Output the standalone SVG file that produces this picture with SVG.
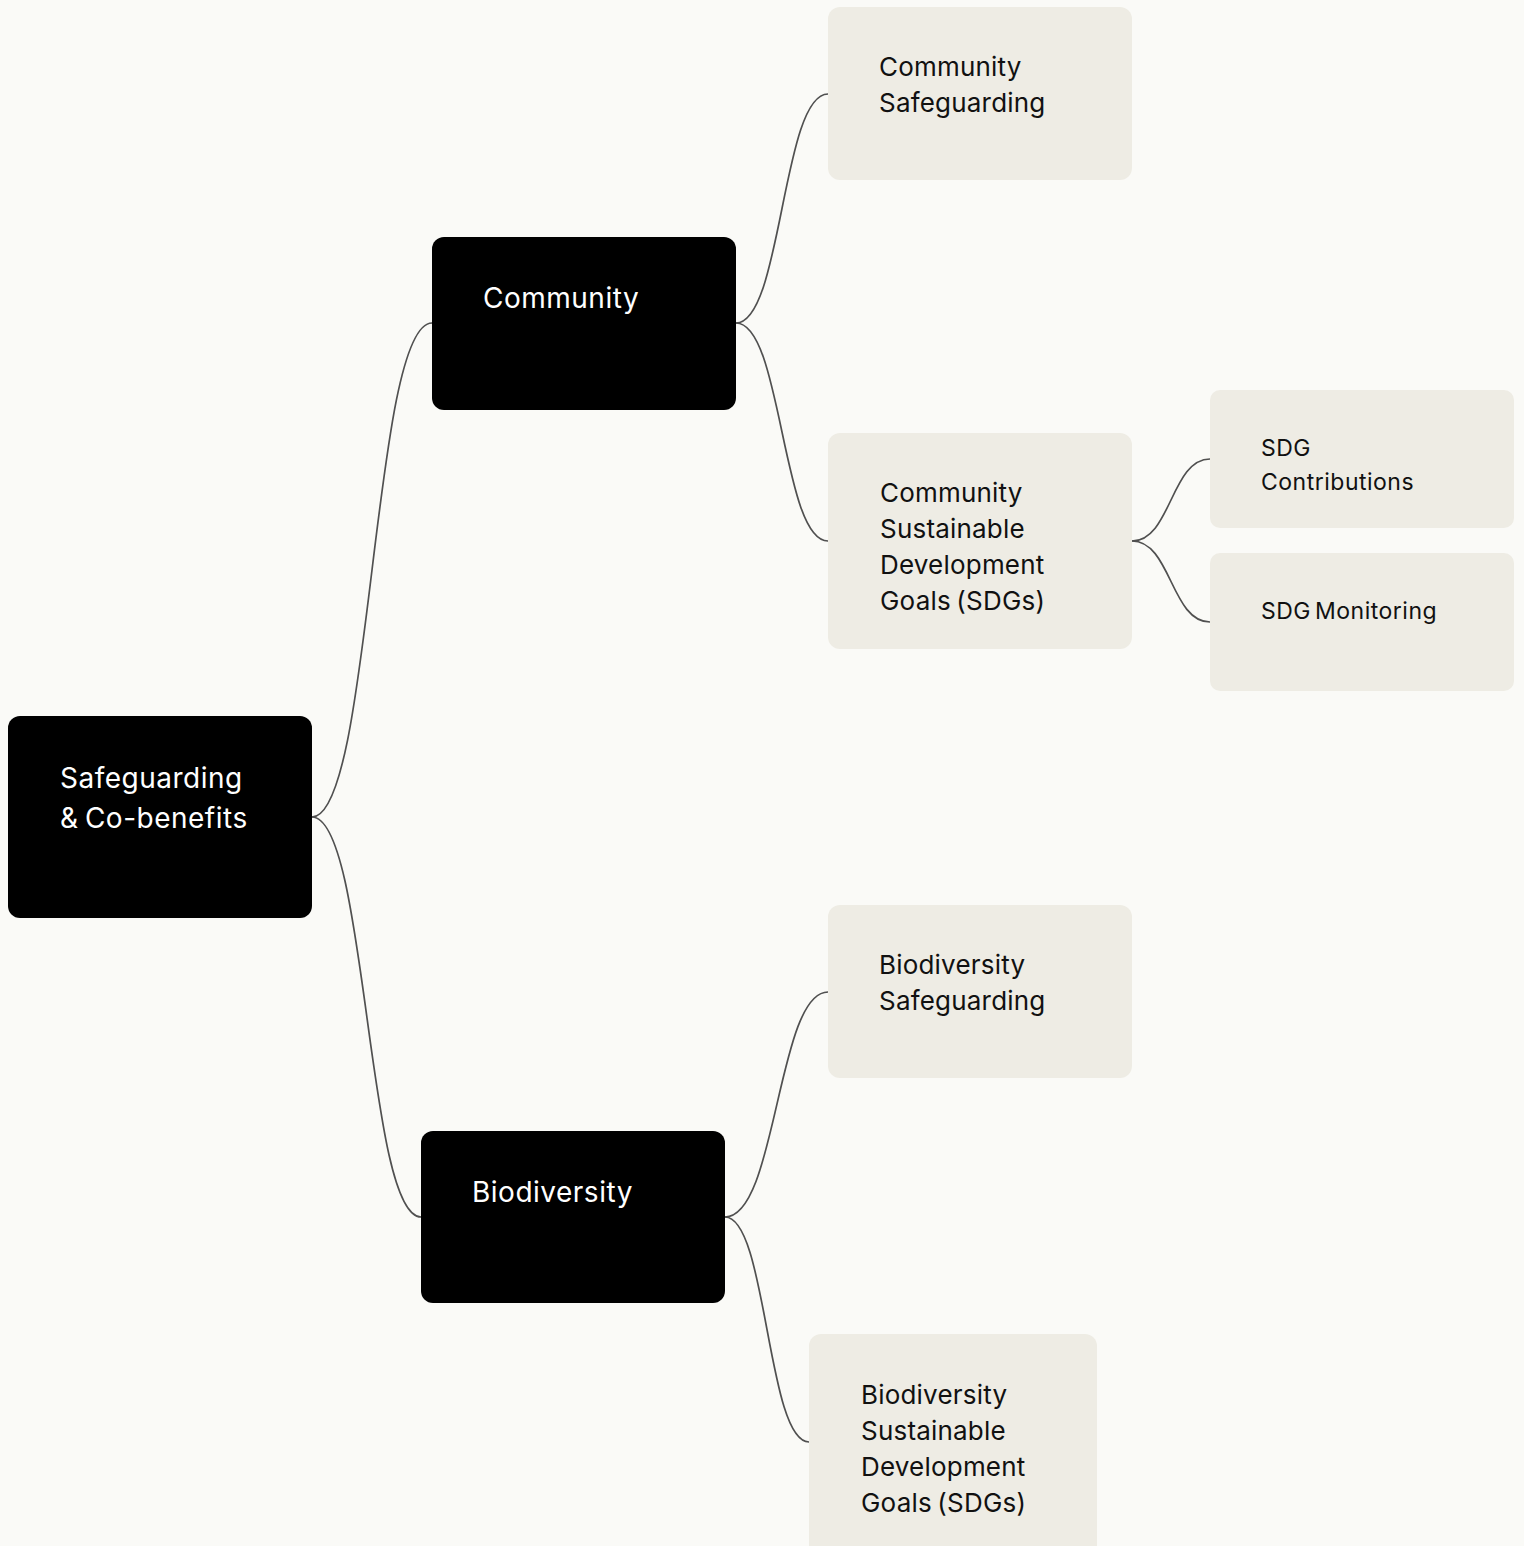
<svg xmlns="http://www.w3.org/2000/svg" width="1524" height="1546" viewBox="0 0 1524 1546">
<style>
.dark{fill:#000000}
.light{fill:#EEECE4}
.tw{fill:#FFFFFF;font-family:Inter,"Noto Sans",sans-serif;font-size:28px;letter-spacing:0.5px;word-spacing:-2px}
.tb{fill:#111111;font-family:Inter,"Noto Sans",sans-serif;font-size:26px;letter-spacing:0.2px;word-spacing:-2px}
.ts{fill:#111111;font-family:Inter,"Noto Sans",sans-serif;font-size:23px;letter-spacing:0.5px;word-spacing:-3px}
.edge{fill:none;stroke:#505050;stroke-width:1.7}
</style>
<rect x="0" y="0" width="1524" height="1546" fill="#FAFAF7"/>
<g id="connectors">
<path class="edge" d="M312,817 C372,817 372,323 432,323"/>
<path class="edge" d="M312,817 C367,817 367,1217 421,1217"/>
<path class="edge" d="M736,323 C782,323 782,94 828,94"/>
<path class="edge" d="M736,323 C782,323 782,541 828,541"/>
<path class="edge" d="M1132,541 C1171,541 1171,459 1210,459"/>
<path class="edge" d="M1132,541 C1171,541 1171,622 1210,622"/>
<path class="edge" d="M725,1217 C777,1217 777,992 828,992"/>
<path class="edge" d="M725,1217 C767,1217 767,1442 809,1442"/>
</g>
<g id="root">
<rect class="dark" x="8" y="716" width="304" height="202" rx="12"/>
<text class="tw" x="60" y="788">Safeguarding</text>
<text class="tw" x="60" y="828">&amp; Co-benefits</text>
</g>
<g id="community">
<rect class="dark" x="432" y="237" width="304" height="173" rx="12"/>
<text class="tw" x="483" y="308">Community</text>
</g>
<g id="biodiversity">
<rect class="dark" x="421" y="1131" width="304" height="172" rx="12"/>
<text class="tw" x="472" y="1202">Biodiversity</text>
</g>
<g id="community-safeguarding">
<rect class="light" x="828" y="7" width="304" height="173" rx="12"/>
<text class="tb" x="879" y="76">Community</text>
<text class="tb" x="879" y="112">Safeguarding</text>
</g>
<g id="community-sdgs">
<rect class="light" x="828" y="433" width="304" height="216" rx="12"/>
<text class="tb" x="880" y="502">Community</text>
<text class="tb" x="880" y="538">Sustainable</text>
<text class="tb" x="880" y="574">Development</text>
<text class="tb" x="880" y="610">Goals (SDGs)</text>
</g>
<g id="sdg-contributions">
<rect class="light" x="1210" y="390" width="304" height="138" rx="10"/>
<text class="ts" x="1261" y="456">SDG</text>
<text class="ts" x="1261" y="490">Contributions</text>
</g>
<g id="sdg-monitoring">
<rect class="light" x="1210" y="553" width="304" height="138" rx="10"/>
<text class="ts" x="1261" y="619">SDG Monitoring</text>
</g>
<g id="biodiversity-safeguarding">
<rect class="light" x="828" y="905" width="304" height="173" rx="12"/>
<text class="tb" x="879" y="974">Biodiversity</text>
<text class="tb" x="879" y="1010">Safeguarding</text>
</g>
<g id="biodiversity-sdgs">
<rect class="light" x="809" y="1334" width="288" height="224" rx="12"/>
<text class="tb" x="861" y="1404">Biodiversity</text>
<text class="tb" x="861" y="1440">Sustainable</text>
<text class="tb" x="861" y="1476">Development</text>
<text class="tb" x="861" y="1512">Goals (SDGs)</text>
</g>
</svg>
